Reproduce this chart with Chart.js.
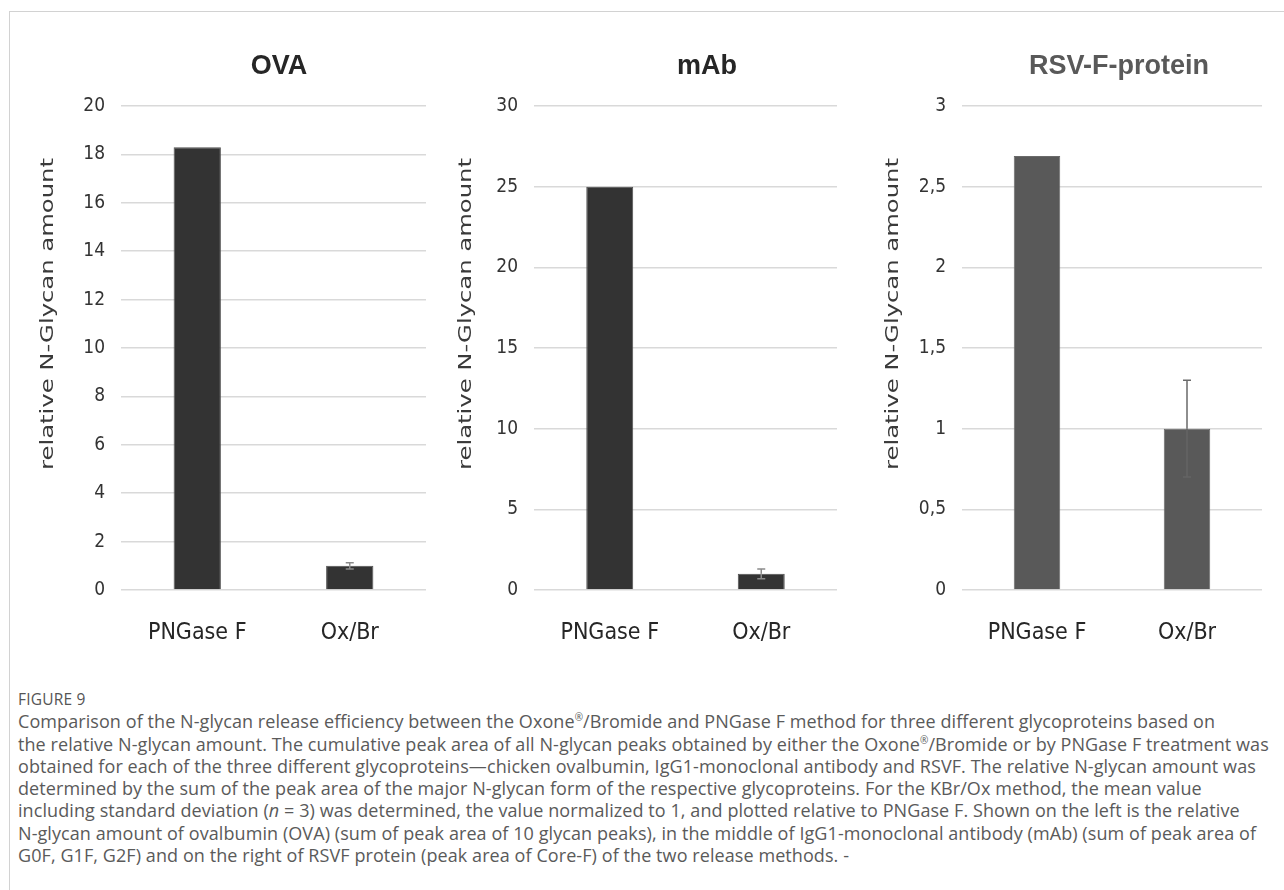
<!DOCTYPE html>
<html>
<head>
<meta charset="utf-8">
<script src="https://cdn.jsdelivr.net/npm/chart.js@4"></script>
<style>
  html, body { margin: 0; padding: 0; background: #fff; }
  body { width: 1284px; height: 890px; position: relative; overflow: hidden; }
  .frame { position: absolute; left: 9px; top: 11px; width: 1300px; height: 900px;
           border: 1.5px solid #d2d2d2; box-sizing: border-box; }
  canvas.panel { position: absolute; top: 12px; height: 668px; }
  .caption { position: absolute; left: 18px; top: 688px; color: #5a5a5a;
             font-family: "Open Sans", sans-serif; font-size: 18px; line-height: 22.3px;
             letter-spacing: 0.08px; white-space: nowrap; }
  .caption .fig { font-size: 15.5px; color: #555; letter-spacing: 0.2px; margin-bottom: 0; }
  .caption sup { font-size: 10px; line-height: 0; }
</style>
</head>
<body>
<div class="frame"></div>
<canvas class="panel" id="ova" width="420" height="668" style="left:10px;width:420px"></canvas>
<canvas class="panel" id="mab" width="420" height="668" style="left:430px;width:420px"></canvas>
<canvas class="panel" id="rsv" width="425" height="668" style="left:850px;width:425px"></canvas>
<div class="caption">
  <div class="fig">FIGURE 9</div>
  Comparison of the N-glycan release efficiency between the Oxone<sup>®</sup>/Bromide and PNGase F method for three different glycoproteins based on<br>
  the relative N-glycan amount. The cumulative peak area of all N-glycan peaks obtained by either the Oxone<sup>®</sup>/Bromide or by PNGase F treatment was<br>
  obtained for each of the three different glycoproteins—chicken ovalbumin, IgG1-monoclonal antibody and RSVF. The relative N-glycan amount was<br>
  determined by the sum of the peak area of the major N-glycan form of the respective glycoproteins. For the KBr/Ox method, the mean value<br>
  including standard deviation (<i>n</i> = 3) was determined, the value normalized to 1, and plotted relative to PNGase F. Shown on the left is the relative<br>
  N-glycan amount of ovalbumin (OVA) (sum of peak area of 10 glycan peaks), in the middle of IgG1-monoclonal antibody (mAb) (sum of peak area of<br>
  G0F, G1F, G2F) and on the right of RSVF protein (peak area of Core-F) of the two release methods. -
</div>
<script>
// Release methods compared in every panel
const categories = ['PNGase F', 'Ox/Br'];

// Relative N-glycan amount (mean) and standard deviation per method
const ovaMeans = [18.3, 1.0];
const ovaErrors = [0, 0.13];
const mabMeans = [25.0, 1.0];
const mabErrors = [0, 0.3];
const rsvMeans = [2.69, 1.0];
const rsvErrors = [0, 0.3];

// Y-axis tick values per panel
const ovaTicks = [0, 2, 4, 6, 8, 10, 12, 14, 16, 18, 20];
const mabTicks = [0, 5, 10, 15, 20, 25, 30];
const rsvTicks = [0, 0.5, 1, 1.5, 2, 2.5, 3];

const panelTitles = ['OVA', 'mAb', 'RSV-F-protein'];
const yAxisTitle = 'relative N-Glycan amount';

// Error bars (mean ± SD) drawn through the value scale
const errorBarPlugin = {
  id: 'errorBars',
  afterDatasetsDraw(chart, args, opts) {
    const ctx = chart.ctx;
    const y = chart.scales.y;
    const meta = chart.getDatasetMeta(0);
    const means = chart.data.datasets[0].data;
    ctx.save();
    ctx.lineWidth = 1.5;
    opts.errors.forEach((err, i) => {
      if (!err) return;
      const x = meta.data[i].x;
      const yMid = y.getPixelForValue(means[i]);
      const yTop = y.getPixelForValue(means[i] + err);
      const yBot = y.getPixelForValue(means[i] - err);
      ctx.strokeStyle = opts.color;
      ctx.beginPath();
      ctx.moveTo(x, yTop); ctx.lineTo(x, yMid);
      ctx.moveTo(x - 4, yTop); ctx.lineTo(x + 4, yTop);
      ctx.stroke();
      ctx.strokeStyle = opts.lowerColor;
      ctx.beginPath();
      ctx.moveTo(x, yMid); ctx.lineTo(x, yBot);
      ctx.moveTo(x - 4, yBot); ctx.lineTo(x + 4, yBot);
      ctx.stroke();
    });
    ctx.restore();
  }
};

// Panel heading and rotated y-axis title
const panelTextPlugin = {
  id: 'panelText',
  afterDraw(chart, args, opts) {
    const ctx = chart.ctx;
    ctx.save();
    ctx.fillStyle = opts.titleColor;
    ctx.font = 'bold 27px "Liberation Sans", sans-serif';
    ctx.textAlign = 'center';
    ctx.textBaseline = 'alphabetic';
    ctx.fillText(opts.title, opts.titleX, 62);

    ctx.fillStyle = '#3a3a3a';
    ctx.font = '17px "DejaVu Sans", sans-serif';
    ctx.textBaseline = 'middle';
    const w = ctx.measureText(yAxisTitle).width;
    ctx.translate(opts.axisX, 302);
    ctx.rotate(-Math.PI / 2);
    ctx.scale(312 / w, 1);
    ctx.fillText(yAxisTitle, 0, 0);
    ctx.restore();
  }
};

function makePanel(id, title, means, errors, ticks, opt) {
  new Chart(document.getElementById(id), {
    type: 'bar',
    data: {
      labels: categories,
      datasets: [{
        data: means,
        backgroundColor: opt.fill,
        borderColor: opt.edge,
        borderWidth: 1,
        barPercentage: 0.31,
        categoryPercentage: 1
      }]
    },
    options: {
      responsive: false,
      animation: false,
      events: [],
      layout: { padding: { top: 94, right: opt.padRight, left: 0, bottom: 0 } },
      plugins: {
        legend: { display: false },
        tooltip: { enabled: false },
        title: { display: false },
        errorBars: { errors: errors, color: opt.errColor, lowerColor: opt.errLowerColor },
        panelText: { title: title, titleX: opt.titleX, axisX: opt.axisX, titleColor: opt.titleColor }
      },
      scales: {
        x: {
          grid: { display: false, drawTicks: false },
          border: { display: false },
          ticks: {
            color: '#262626',
            padding: 29,
            font: { family: '"DejaVu Sans Condensed", "Liberation Sans", sans-serif', size: 23 }
          },
          afterFit(scale) { scale.height = 90; }
        },
        y: {
          min: ticks[0],
          max: ticks[ticks.length - 1],
          afterBuildTicks(scale) { scale.ticks = ticks.map(v => ({ value: v })); },
          grid: { color: '#d9d9d9', lineWidth: 1.5, drawTicks: false },
          border: { display: false },
          ticks: {
            color: '#333',
            padding: 16,
            font: { family: '"DejaVu Sans Condensed", "Liberation Sans", sans-serif', size: 19 },
            callback: v => String(v).replace('.', ',')
          },
          afterFit(scale) { scale.width = opt.axisWidth; }
        }
      }
    },
    plugins: [errorBarPlugin, panelTextPlugin]
  });
}

makePanel('ova', panelTitles[0], ovaMeans, ovaErrors, ovaTicks, {
  fill: '#333333', edge: '#4f4f4f', errColor: '#8a8a8a', errLowerColor: '#8a8a8a',
  titleColor: '#262626', axisWidth: 111, padRight: 4, titleX: 269, axisX: 39
});
makePanel('mab', panelTitles[1], mabMeans, mabErrors, mabTicks, {
  fill: '#333333', edge: '#4f4f4f', errColor: '#8a8a8a', errLowerColor: '#8a8a8a',
  titleColor: '#262626', axisWidth: 104, padRight: 13, titleX: 277, axisX: 37
});
makePanel('rsv', panelTitles[2], rsvMeans, rsvErrors, rsvTicks, {
  fill: '#595959', edge: '#6a6a6a', errColor: '#6a6a6a', errLowerColor: '#646464',
  titleColor: '#595959', axisWidth: 112, padRight: 13, titleX: 269, axisX: 44
});
</script>
</body>
</html>
